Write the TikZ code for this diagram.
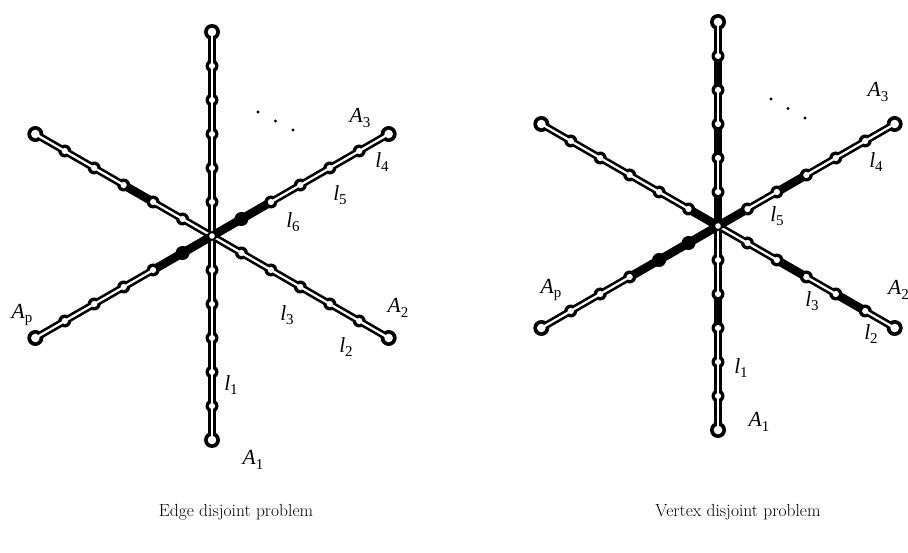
\documentclass[tikz,border=0pt]{standalone}
\usepackage{fontspec}
\usetikzlibrary{calc}
\newfontfamily\lblfont{Liberation Serif}
\newcommand\lblsub[2]{{\lblfont\itshape #1}\raisebox{-0.45ex}{\lblfont\fontsize{15}{16}\selectfont #2}}
\begin{document}
\begin{tikzpicture}[
    x=1pt, y=1pt,
    every node/.style={font=\lblfont\fontsize{21.5}{24}\selectfont, inner sep=0pt},
    chan/.style={line width=7.5pt, black},
    chanin/.style={line width=2.2pt, white},
    filled/.style={line width=8.5pt, black},
    capt/.style={font=\rmfamily\fontsize{17.5}{20}\selectfont},
  ]
  \useasboundingbox (0,-553) rectangle (908,0);

  % ── Vertices: two stars, six rays of six steps ──────────
  \foreach \s/\cx/\cy in {L/212/-236, R/718/-226} {
    \foreach \r/\a in {1/-90, 2/-30, 3/30, 4/90, 5/150, 6/210} {
      \foreach \k in {0,...,6}
        \coordinate (\s-\r-\k) at ($(\cx,\cy)+(\a:{34*\k})$);
    }
  }

  % ── Channels (outline) ──────────────────────────────────
  \foreach \s in {L,R}
    \foreach \r in {1,...,6}
      \foreach \k [remember=\k as \j (initially 0)] in {1,...,6}
        \draw[chan] (\s-\r-\j) -- (\s-\r-\k);
  \foreach \s in {L,R} {
    \fill (\s-1-0) circle (6.5);
    \foreach \r in {1,...,6} {
      \foreach \k in {1,...,5}
        \fill (\s-\r-\k) circle (6.5);
      \fill (\s-\r-6) circle (8);
    }
  }

  % ── Channels (hollow inside) ────────────────────────────
  \foreach \s in {L,R}
    \foreach \r in {1,...,6}
      \foreach \k [remember=\k as \j (initially 0)] in {1,...,6}
        \draw[chanin] (\s-\r-\j) -- (\s-\r-\k);

  % ── Used edges ──────────────────────────────────────────
  \foreach \r/\k in {3/1, 3/2, 5/3, 6/1, 6/2} {
    \pgfmathtruncatemacro\j{\k-1}
    \draw[filled] (L-\r-\j) -- (L-\r-\k);
  }
  \foreach \r/\k in {1/3, 2/3, 2/5, 3/1, 3/3, 4/1, 4/3, 4/5, 5/1, 6/1, 6/2, 6/3} {
    \pgfmathtruncatemacro\j{\k-1}
    \draw[filled] (R-\r-\j) -- (R-\r-\k);
  }

  % ── Vertex holes and used vertices ──────────────────────
  \foreach \s in {L,R} {
    \fill[white] (\s-1-0) circle (2.8);
    \foreach \r in {1,...,6} {
      \foreach \k in {1,...,5}
        \fill[white] (\s-\r-\k) circle (3.1);
      \fill[white] (\s-\r-6) circle (4.3);
    }
  }
  \foreach \v in {L-3-1, L-6-1, R-6-1, R-6-2}
    \fill (\v) circle (7);

  % ── Labels, left ────────────────────────────────────────
  \node (la3) at (360,-118) {\lblsub{A}{3}};
  \node (ll4) at (382,-162) {\lblsub{l}{4}};
  \node (ll5) at (340,-195) {\lblsub{l}{5}};
  \node (ll6) at (293,-222) {\lblsub{l}{6}};
  \node (la2) at (398,-308) {\lblsub{A}{2}};
  \node (ll3) at (287,-315) {\lblsub{l}{3}};
  \node (ll2) at (346,-347) {\lblsub{l}{2}};
  \node (ll1) at (231,-385) {\lblsub{l}{1}};
  \node (la1) at (253,-460) {\lblsub{A}{1}};
  \node (lap) at (22,-315)  {\lblsub{A}{p}};
  \coordinate (ldots) at (258,-112);
  \foreach \d in {0,1,2}
    \fill ($(ldots)+(17.5*\d,-9*\d)$) circle (1.7);

  % ── Labels, right ───────────────────────────────────────
  \node (ra3) at (878,-92)  {\lblsub{A}{3}};
  \node (rl4) at (876,-162) {\lblsub{l}{4}};
  \node (rl5) at (777,-216) {\lblsub{l}{5}};
  \node (rap) at (551,-290) {\lblsub{A}{p}};
  \node (rl3) at (812,-301) {\lblsub{l}{3}};
  \node[anchor=west] (ra2) at (888,-290) {\lblsub{A}{2}};
  \node (rl2) at (871,-334) {\lblsub{l}{2}};
  \node (rl1) at (741,-368) {\lblsub{l}{1}};
  \node (ra1) at (759,-422) {\lblsub{A}{1}};
  \coordinate (rdots) at (771,-99);
  \foreach \d in {0,1,2}
    \fill ($(rdots)+(17*\d,-9.5*\d)$) circle (1.7);

  % ── Captions ────────────────────────────────────────────
  \node[capt] (capl) at (236,-512) {Edge disjoint problem};
  \node[capt] (capr) at (738,-512) {Vertex disjoint problem};
\end{tikzpicture}
\end{document}
